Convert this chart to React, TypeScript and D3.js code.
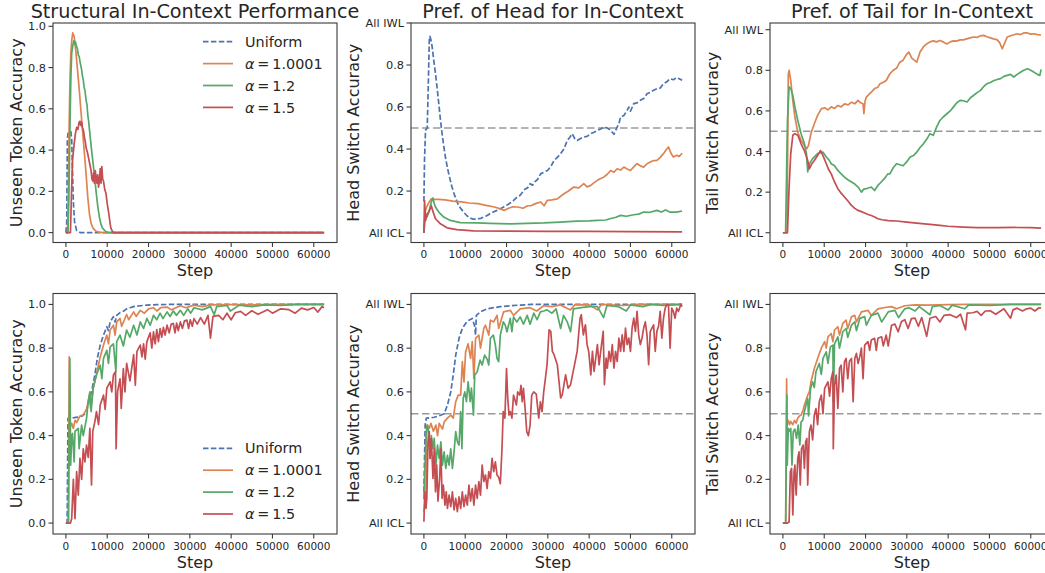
import React from 'react';
import * as d3 from 'd3';

type Pt = [number, number]; // [step in thousands, value]

// ---- data (steps in thousands) ----
const STEP_TICKS = [0, 10000, 20000, 30000, 40000, 50000, 60000];
const Y_TICKS = [0, 0.2, 0.4, 0.6, 0.8, 1.0];
const ACC_TICK_LABELS = ['0.0', '0.2', '0.4', '0.6', '0.8', '1.0'];
const SWITCH_TICK_LABELS = ['All ICL', '0.2', '0.4', '0.6', '0.8', 'All IWL'];
const LEGEND_LABELS = ['Uniform', '1.0001', '1.2', '1.5'];

// top-left: Structural In-Context Performance
const aUniform: Pt[] = [[0,0],[0.2,0.05],[0.35,0.45],[0.5,0.48],[0.8,0.49],[1.2,0.49],[1.4,0.45],[1.6,0.3],[1.8,0.15],[2.1,0.05],[2.6,0.01],[3.5,0],[62.5,0]];
const aA1: Pt[] = [[0,0],[0.4,0],[0.6,0.2],[0.8,0.54],[1.0,0.75],[1.2,0.87],[1.4,0.93],[1.65,0.968],[2.0,0.95],[2.4,0.88],[2.8,0.79],[3.2,0.7],[3.6,0.6],[4.0,0.5],[4.5,0.38],[4.9,0.28],[5.3,0.17],[5.7,0.09],[6.1,0.045],[6.6,0.02],[7.2,0.008],[8,0.002],[9,0],[62.5,0]];
const aA12: Pt[] = [[0,0],[0.5,0],[0.7,0.15],[1.0,0.54],[1.2,0.75],[1.4,0.87],[1.7,0.91],[1.9,0.93],[2.1,0.915],[2.3,0.925],[2.6,0.9],[2.8,0.89],[3.0,0.86],[3.2,0.855],[3.4,0.83],[3.6,0.81],[3.8,0.79],[4.0,0.76],[4.2,0.74],[4.4,0.705],[4.6,0.69],[4.9,0.64],[5.1,0.62],[5.3,0.57],[5.5,0.54],[5.7,0.5],[6.1,0.42],[6.5,0.35],[6.9,0.28],[7.3,0.2],[7.7,0.13],[8.1,0.075],[8.5,0.04],[8.9,0.02],[9.7,0.004],[10.5,0],[62.5,0]];
const aA15: Pt[] = [[0,0],[1.1,0],[1.3,0.15],[1.6,0.35],[2.0,0.43],[2.3,0.48],[2.6,0.51],[2.9,0.5],[3.2,0.535],[3.4,0.54],[3.6,0.52],[3.8,0.535],[4.0,0.51],[4.3,0.49],[4.5,0.46],[4.7,0.44],[4.9,0.41],[5.2,0.39],[5.5,0.36],[5.8,0.33],[6.1,0.3],[6.3,0.26],[6.5,0.25],[6.7,0.29],[6.9,0.24],[7.1,0.3],[7.3,0.27],[7.5,0.24],[7.7,0.28],[7.9,0.22],[8.1,0.25],[8.3,0.31],[8.5,0.24],[8.7,0.32],[8.9,0.26],[9.1,0.25],[9.4,0.21],[9.7,0.19],[10.0,0.14],[10.4,0.09],[10.7,0.045],[10.9,0.02],[11.3,0.005],[11.6,0],[62.5,0]];

// top-middle: Pref. of Head for In-Context
const bUniform: Pt[] = [[0,0.15],[0.15,0.35],[0.4,0.49],[0.8,0.5],[1.05,0.695],[1.3,0.917],[1.45,0.937],[1.7,0.92],[2.0,0.886],[2.4,0.82],[2.8,0.76],[3.2,0.69],[3.6,0.616],[4.0,0.54],[4.4,0.473],[4.8,0.415],[5.2,0.362],[5.6,0.32],[6.0,0.283],[6.4,0.25],[6.8,0.219],[7.2,0.193],[7.6,0.171],[8.0,0.15],[8.4,0.132],[9.0,0.115],[9.6,0.1],[10.2,0.087],[10.8,0.076],[11.4,0.07],[12.0,0.066],[12.6,0.066],[13.2,0.068],[13.8,0.07],[14.4,0.076],[15.2,0.082],[16.0,0.092],[16.8,0.1],[17.7,0.108],[18.5,0.116],[19.3,0.124],[20.1,0.133],[20.9,0.143],[21.7,0.155],[22.5,0.17],[23.3,0.18],[23.9,0.195],[24.5,0.21],[25.1,0.215],[25.7,0.235],[26.3,0.228],[26.9,0.245],[27.5,0.255],[28.3,0.283],[29.1,0.29],[29.9,0.298],[30.7,0.315],[31.5,0.346],[32.3,0.36],[33.1,0.378],[33.9,0.4],[34.7,0.441],[35.3,0.455],[35.9,0.473],[36.5,0.45],[37.1,0.441],[37.9,0.45],[38.7,0.457],[39.5,0.46],[40.4,0.473],[41.2,0.48],[42.0,0.489],[42.8,0.495],[43.6,0.505],[44.4,0.5],[45.2,0.489],[46.0,0.47],[46.8,0.505],[47.2,0.52],[47.6,0.552],[48.4,0.56],[49.2,0.584],[49.6,0.6],[50.0,0.58],[50.8,0.616],[51.6,0.62],[52.4,0.632],[53.2,0.64],[54.0,0.663],[54.8,0.67],[55.6,0.68],[56.4,0.687],[57.2,0.69],[58.0,0.711],[58.8,0.72],[59.6,0.735],[60.4,0.73],[61.2,0.74],[61.8,0.735],[62.5,0.727]];
const bA1: Pt[] = [[0,0],[0.15,0.05],[0.4,0.11],[0.8,0.13],[1.2,0.145],[1.8,0.163],[2.5,0.16],[3.5,0.16],[5.1,0.158],[7,0.152],[9.1,0.148],[11,0.143],[13.1,0.14],[15,0.132],[17.1,0.124],[18.5,0.115],[19.5,0.108],[20.5,0.118],[21.5,0.125],[22.7,0.124],[24,0.118],[25.1,0.13],[25.9,0.13],[27,0.14],[28.3,0.148],[29.1,0.13],[29.9,0.156],[31,0.158],[32.3,0.163],[33.1,0.175],[33.9,0.187],[35,0.2],[36.3,0.219],[37.5,0.215],[38.7,0.235],[39.5,0.22],[40.4,0.227],[41.2,0.24],[42,0.251],[42.8,0.26],[43.6,0.267],[44.4,0.28],[45.2,0.298],[46,0.29],[46.8,0.306],[47.6,0.3],[48.4,0.314],[49.2,0.305],[50,0.298],[50.8,0.315],[51.6,0.33],[52.4,0.32],[53.2,0.314],[54,0.33],[54.8,0.338],[55.6,0.345],[56.4,0.346],[57.2,0.36],[58,0.378],[58.6,0.395],[59.2,0.41],[59.8,0.38],[60.4,0.362],[61.2,0.37],[61.8,0.365],[62.5,0.38]];
const bA12: Pt[] = [[0,0],[0.2,0.05],[0.5,0.09],[0.7,0.076],[1.0,0.09],[1.3,0.108],[1.8,0.148],[2.2,0.167],[2.5,0.14],[2.8,0.124],[3.6,0.1],[4.8,0.076],[6.4,0.06],[8.8,0.05],[12.8,0.048],[16,0.046],[21,0.044],[25,0.046],[29,0.048],[33,0.052],[37,0.057],[40,0.058],[42,0.06],[44,0.062],[45,0.068],[46.5,0.075],[47.6,0.084],[49,0.08],[50.8,0.087],[52,0.09],[53.2,0.1],[54.5,0.098],[56.4,0.108],[57.5,0.1],[58.5,0.11],[59.5,0.1],[61.2,0.1],[62.5,0.105]];
const bA15: Pt[] = [[0,0],[0.15,0.155],[0.4,0.06],[0.8,0.09],[1.2,0.1],[1.8,0.13],[2.1,0.108],[2.8,0.068],[4,0.044],[5.6,0.025],[8,0.016],[12,0.01],[20,0.009],[30,0.008],[40,0.008],[50,0.007],[62.5,0.006]];

// top-right: Pref. of Tail for In-Context
const cA1: Pt[] = [[0,0],[1.0,0],[1.3,0.78],[1.5,0.8],[1.9,0.75],[2.4,0.65],[2.9,0.57],[3.6,0.495],[4.4,0.455],[5.2,0.43],[5.8,0.414],[6.2,0.43],[6.8,0.49],[7.6,0.537],[8.4,0.578],[9.3,0.61],[10.1,0.616],[10.9,0.605],[11.7,0.62],[12.5,0.612],[13.3,0.627],[14.1,0.62],[14.9,0.635],[15.8,0.63],[16.6,0.643],[17.4,0.635],[18.2,0.652],[18.8,0.64],[19.4,0.635],[19.6,0.586],[19.9,0.65],[20.2,0.668],[21,0.685],[21.4,0.693],[22.2,0.71],[23,0.717],[23.5,0.734],[24.2,0.74],[25,0.75],[25.9,0.783],[26.7,0.8],[27.5,0.81],[28.3,0.84],[29.1,0.85],[30,0.88],[30.5,0.89],[31.2,0.86],[32.4,0.84],[33.2,0.89],[34,0.915],[34.8,0.93],[35.6,0.94],[36.4,0.945],[37.2,0.94],[38,0.947],[38.8,0.94],[39.7,0.93],[40.5,0.94],[41.3,0.945],[42,0.944],[42.9,0.95],[43.7,0.95],[44.5,0.955],[45.3,0.96],[46.2,0.964],[47,0.962],[47.8,0.97],[48.6,0.972],[49.4,0.965],[50.2,0.96],[51,0.955],[51.9,0.95],[52.5,0.935],[53.1,0.906],[53.6,0.93],[54.3,0.964],[55.1,0.97],[55.9,0.975],[56.7,0.98],[57.5,0.976],[58.3,0.984],[59.2,0.984],[60,0.978],[60.8,0.98],[61.6,0.976],[62.5,0.974]];
const cA12: Pt[] = [[0,0],[0.65,0],[1.1,0.553],[1.5,0.718],[1.9,0.71],[2.4,0.676],[2.9,0.62],[3.6,0.553],[4.4,0.488],[5.2,0.438],[5.7,0.39],[6.0,0.3],[6.4,0.34],[7.2,0.365],[8.4,0.39],[9.2,0.395],[9.7,0.397],[10.5,0.373],[11.1,0.36],[11.7,0.34],[12.5,0.33],[13.3,0.307],[14.1,0.29],[14.9,0.274],[15.8,0.26],[16.6,0.25],[17.4,0.24],[18.2,0.225],[19,0.2],[19.6,0.215],[20.2,0.217],[21.4,0.225],[22.2,0.208],[23,0.233],[23.8,0.25],[24.7,0.27],[25.4,0.29],[25.9,0.29],[26.7,0.32],[27.5,0.34],[28.3,0.335],[29.1,0.33],[30,0.35],[30.8,0.373],[31.6,0.38],[32.4,0.397],[33.2,0.42],[34,0.438],[34.8,0.46],[35.6,0.488],[36.4,0.48],[37.2,0.52],[38,0.553],[38.8,0.57],[39.7,0.586],[40.5,0.6],[41.3,0.62],[42.1,0.64],[42.9,0.652],[43.7,0.65],[44.6,0.644],[45.4,0.665],[46.2,0.677],[47,0.69],[47.8,0.7],[48.6,0.72],[49.4,0.734],[50.2,0.74],[51.1,0.75],[51.9,0.755],[52.7,0.759],[53.5,0.77],[54.3,0.775],[55.1,0.78],[55.9,0.767],[56.7,0.78],[57.5,0.79],[58.3,0.8],[59.2,0.808],[60,0.8],[60.8,0.79],[61.6,0.78],[62.2,0.775],[62.5,0.805]];
const cA15: Pt[] = [[0,0],[1.1,0],[1.5,0.225],[1.9,0.39],[2.4,0.48],[2.9,0.488],[3.6,0.48],[4.4,0.438],[5.2,0.405],[6.0,0.356],[6.4,0.315],[7.0,0.34],[7.6,0.356],[8.4,0.38],[9.1,0.405],[9.7,0.38],[10.5,0.34],[11.1,0.31],[11.7,0.29],[12.5,0.25],[13.3,0.217],[14.1,0.195],[14.9,0.176],[15.8,0.155],[16.6,0.135],[17.4,0.12],[18.2,0.11],[19,0.104],[19.8,0.097],[20.6,0.09],[21.4,0.085],[22.2,0.078],[23,0.069],[24,0.064],[25.5,0.06],[27.5,0.058],[30,0.052],[33,0.046],[35.6,0.041],[38,0.036],[40,0.032],[43.7,0.028],[47,0.025],[51.9,0.025],[56,0.026],[60,0.025],[62.5,0.023]];

// bottom-left: Unseen Token Accuracy
const dUniform: Pt[] = [[0,0],[0.3,0],[0.5,0.479],[1,0.48],[2,0.482],[3,0.485],[4,0.49],[4.6,0.5],[5.4,0.54],[6.2,0.6],[7,0.677],[7.6,0.753],[8.3,0.814],[9.1,0.86],[9.9,0.898],[10.3,0.88],[10.7,0.92],[11.5,0.944],[11.9,0.92],[12.3,0.95],[13.1,0.963],[14,0.97],[14.7,0.98],[15.5,0.985],[16.4,0.99],[18,0.994],[19.6,0.997],[22,0.999],[25,1.0],[62.5,1.0]];
const dA1: Pt[] = [[0,0],[0.6,0],[0.8,0.76],[0.9,0.433],[1.4,0.456],[1.8,0.433],[2.2,0.47],[2.6,0.46],[3.4,0.49],[4.2,0.495],[5,0.52],[5.7,0.585],[6.0,0.524],[6.6,0.617],[7.5,0.69],[8.3,0.76],[9.1,0.814],[9.9,0.86],[10.3,0.82],[10.7,0.883],[11.5,0.905],[11.9,0.86],[12.3,0.92],[13.1,0.936],[13.5,0.9],[14.7,0.954],[15.2,0.93],[16.4,0.966],[17,0.945],[18,0.973],[19,0.96],[20,0.98],[21.2,0.985],[22,0.97],[23,0.986],[24.5,0.988],[25.5,0.975],[27.7,0.994],[29,0.985],[31,0.997],[33,0.99],[35,0.998],[40,0.999],[45,0.998],[50,1.0],[62.5,1.0]];
const dA12: Pt[] = [[0,0],[0.6,0],[0.95,0.753],[1.15,0.265],[1.4,0.4],[1.6,0.41],[2.0,0.28],[2.2,0.42],[3.0,0.433],[3.2,0.34],[3.8,0.448],[4.2,0.4],[5.0,0.48],[5.4,0.555],[5.8,0.6],[6.1,0.51],[6.6,0.617],[7.4,0.677],[8.3,0.722],[8.7,0.66],[9.1,0.753],[9.9,0.79],[10.3,0.73],[10.7,0.806],[11.5,0.82],[12.1,0.692],[12.3,0.83],[13.1,0.86],[13.9,0.81],[14.7,0.883],[15.5,0.85],[16.4,0.905],[17.2,0.86],[18,0.92],[18.8,0.89],[19.6,0.936],[20.4,0.905],[21.2,0.95],[22,0.93],[22.8,0.96],[23.5,0.935],[24.5,0.966],[25.2,0.945],[26,0.97],[26.8,0.95],[27.7,0.973],[28.5,0.95],[29.5,0.98],[30.2,0.96],[31,0.985],[33,0.975],[35,0.99],[35.9,0.953],[36.5,0.99],[39,0.995],[39.8,0.97],[42,0.997],[45,0.99],[48,0.998],[52,0.995],[56,1.0],[62.5,1.0]];
const dA15: Pt[] = [[0,0],[1.1,0],[1.4,0.02],[1.8,0.2],[2.2,0.02],[2.6,0.235],[3.0,0.128],[3.4,0.296],[3.8,0.2],[4.2,0.34],[4.6,0.28],[5.0,0.357],[5.4,0.3],[5.8,0.433],[6.2,0.174],[6.5,0.418],[7.0,0.463],[7.4,0.51],[7.9,0.45],[8.3,0.54],[9.1,0.585],[9.5,0.52],[9.9,0.617],[10.7,0.646],[11.1,0.6],[11.5,0.677],[12.0,0.692],[12.15,0.34],[12.5,0.6],[13.1,0.66],[13.4,0.524],[13.9,0.707],[14.3,0.6],[14.7,0.73],[15.5,0.65],[16.4,0.77],[16.8,0.63],[17.2,0.785],[18,0.814],[18.4,0.76],[18.8,0.82],[19.2,0.75],[19.6,0.83],[20.4,0.87],[20.8,0.8],[21.2,0.875],[21.6,0.82],[22,0.885],[22.4,0.83],[22.8,0.89],[23.2,0.85],[23.6,0.895],[24.0,0.86],[24.5,0.905],[25,0.87],[25.5,0.91],[26,0.913],[26.4,0.87],[26.8,0.915],[27.2,0.88],[27.7,0.92],[28.2,0.89],[28.7,0.925],[29.3,0.928],[29.7,0.89],[30.1,0.93],[30.6,0.9],[31,0.935],[31.8,0.91],[32.6,0.94],[33.5,0.91],[34.4,0.95],[35,0.846],[35.6,0.945],[37,0.95],[38,0.93],[39,0.96],[40,0.93],[41,0.962],[42.3,0.968],[43.5,0.95],[45,0.971],[46.5,0.955],[48.8,0.976],[50,0.96],[52,0.98],[54,0.976],[55.5,0.96],[57,0.983],[58.5,0.975],[60,0.986],[61,0.965],[62,0.99],[62.5,0.985]];

// bottom-middle: Head Switch Accuracy
const eUniform: Pt[] = [[0,0.143],[0.3,0.448],[0.6,0.48],[1.5,0.482],[2.5,0.484],[3.3,0.488],[4.2,0.494],[4.9,0.5],[5.7,0.54],[6.5,0.6],[7.1,0.677],[7.7,0.768],[8.5,0.845],[9.3,0.89],[10.1,0.913],[10.9,0.928],[11.7,0.936],[12.3,0.9],[12.5,0.86],[12.7,0.95],[13.7,0.966],[15.3,0.98],[16.9,0.985],[18.5,0.99],[20.9,0.994],[23.3,0.997],[26,1.0],[62.5,1.0]];
const eA1: Pt[] = [[0,0.05],[0.5,0.14],[0.7,0.448],[1.3,0.433],[1.7,0.456],[2.3,0.42],[2.9,0.448],[3.3,0.4],[3.7,0.456],[4.5,0.43],[4.9,0.463],[5.7,0.48],[6.5,0.494],[7.1,0.48],[7.7,0.555],[8.3,0.585],[8.9,0.585],[9.3,0.738],[9.7,0.646],[10.1,0.784],[10.7,0.82],[11.3,0.753],[11.7,0.83],[12.1,0.66],[12.5,0.845],[13.3,0.86],[13.7,0.8],[14.5,0.89],[14.9,0.905],[15.7,0.86],[16.1,0.928],[16.9,0.92],[17.7,0.95],[18.1,0.89],[19.3,0.966],[20.9,0.973],[21.7,0.95],[23.3,0.98],[25.7,0.985],[27.3,0.97],[29,0.994],[31,0.99],[33,0.998],[35.5,0.975],[36.5,0.998],[40,0.999],[42,0.975],[43,1.0],[48,0.995],[52,1.0],[62.5,1.0]];
const eA12: Pt[] = [[0,0.11],[0.55,0.418],[0.9,0.448],[1.3,0.387],[1.5,0.296],[1.8,0.4],[2.2,0.34],[2.5,0.387],[2.9,0.265],[3.3,0.357],[3.7,0.296],[4.1,0.372],[4.5,0.265],[4.9,0.326],[5.3,0.25],[5.7,0.31],[6.1,0.265],[6.5,0.34],[6.9,0.25],[7.3,0.326],[7.7,0.418],[8.1,0.372],[8.5,0.357],[8.9,0.51],[9.2,0.34],[9.5,0.57],[9.9,0.6],[10.3,0.555],[10.7,0.646],[11.2,0.555],[11.5,0.617],[12.0,0.494],[12.3,0.677],[12.9,0.692],[13.6,0.745],[14.1,0.723],[14.7,0.768],[15.3,0.75],[15.7,0.723],[16.1,0.845],[16.8,0.86],[17.3,0.814],[17.7,0.753],[18.1,0.738],[18.5,0.86],[19.2,0.92],[19.7,0.905],[20.1,0.875],[20.9,0.936],[21.3,0.875],[21.7,0.943],[22.5,0.92],[23.3,0.943],[24.1,0.91],[25,0.95],[25.7,0.91],[26.6,0.96],[27.4,0.93],[28.2,0.966],[29,0.97],[29.8,0.975],[31,0.96],[32,0.98],[33.1,0.89],[33.8,0.95],[34.7,0.92],[35.5,0.875],[36.2,0.98],[38,0.985],[40,0.99],[42,0.99],[43.5,0.94],[44.3,0.995],[47,0.99],[49,0.97],[50,0.998],[53,0.99],[55,1.0],[58,0.995],[62.5,1.0]];
const eA15: Pt[] = [[0,0.006],[0.2,0.143],[0.5,0.067],[0.7,0.113],[1.0,0.372],[1.3,0.418],[1.5,0.296],[1.8,0.387],[2.2,0.204],[2.5,0.34],[2.8,0.143],[3.1,0.265],[3.4,0.1],[3.8,0.204],[4.1,0.34],[4.4,0.113],[4.7,0.174],[5.1,0.082],[5.4,0.143],[5.7,0.067],[6.1,0.128],[6.5,0.075],[6.9,0.143],[7.3,0.06],[7.7,0.113],[8.1,0.052],[8.5,0.12],[8.9,0.067],[9.3,0.143],[9.7,0.075],[10.1,0.128],[10.5,0.082],[10.9,0.174],[11.3,0.1],[11.7,0.158],[12.1,0.082],[12.5,0.174],[12.9,0.113],[13.3,0.19],[13.7,0.128],[14.1,0.265],[14.5,0.19],[14.9,0.22],[15.3,0.158],[15.7,0.235],[16.1,0.204],[16.5,0.296],[16.9,0.235],[17.3,0.28],[17.7,0.22],[18.1,0.21],[18.5,0.18],[18.9,0.34],[19.2,0.51],[19.6,0.48],[20.0,0.707],[20.3,0.57],[20.6,0.494],[20.9,0.51],[21.3,0.48],[21.7,0.585],[22.4,0.54],[22.7,0.6],[23.2,0.585],[23.5,0.63],[23.8,0.555],[24.1,0.616],[24.5,0.524],[24.9,0.418],[25.3,0.4],[25.7,0.448],[26.1,0.585],[26.6,0.6],[27.2,0.59],[27.8,0.48],[28.2,0.555],[28.6,0.51],[29.0,0.6],[29.4,0.66],[29.8,0.722],[30.3,0.884],[30.7,0.877],[31.1,0.785],[31.5,0.77],[32.3,0.724],[32.7,0.648],[33.1,0.572],[33.5,0.587],[33.9,0.633],[34.3,0.678],[34.9,0.617],[35.5,0.633],[36.3,0.709],[37.1,0.785],[37.8,0.937],[38.1,0.953],[38.6,0.861],[39.1,0.907],[39.5,0.816],[39.9,0.785],[40.4,0.678],[40.8,0.785],[41.2,0.694],[41.6,0.755],[42,0.816],[42.4,0.724],[42.8,0.785],[43.4,0.877],[43.7,0.633],[44.1,0.755],[44.4,0.709],[44.8,0.785],[45.2,0.739],[45.6,0.816],[46,0.709],[46.4,0.785],[46.8,0.739],[47.2,0.846],[47.6,0.785],[48,0.861],[48.4,0.785],[48.8,0.892],[49.2,0.816],[49.6,0.846],[50,0.785],[50.4,0.892],[50.8,0.937],[51.2,0.877],[51.6,0.968],[52,0.861],[52.4,0.816],[52.8,0.846],[53.2,0.892],[53.6,0.92],[54,0.861],[54.4,0.724],[54.8,0.877],[55.2,0.892],[55.6,0.907],[56,0.785],[56.4,0.877],[56.8,0.9],[57.2,0.968],[57.6,0.846],[58,0.937],[58.4,0.983],[58.8,0.998],[59.2,1.0],[59.6,0.8],[60,0.983],[60.4,0.968],[60.8,0.937],[61.2,0.983],[61.6,0.968],[62.2,1.0],[62.5,0.99]];

// bottom-right: Tail Switch Accuracy
const fA1: Pt[] = [[0,0],[0.7,0],[0.9,0.66],[1.0,0.448],[1.3,0.47],[1.6,0.45],[1.9,0.465],[2.4,0.45],[2.8,0.47],[3.2,0.457],[3.6,0.48],[4.0,0.49],[4.4,0.494],[4.9,0.517],[5.2,0.54],[6.0,0.585],[6.4,0.6],[6.8,0.646],[7.6,0.707],[8.4,0.753],[9.3,0.8],[10.1,0.83],[10.5,0.8],[10.9,0.852],[11.7,0.867],[12.1,0.83],[12.5,0.883],[13.3,0.898],[13.7,0.86],[14.5,0.913],[15.3,0.928],[15.7,0.89],[16.6,0.944],[17.4,0.95],[17.8,0.92],[19,0.966],[20.6,0.973],[21.4,0.95],[23,0.98],[24.7,0.986],[26.3,0.99],[27.5,0.98],[29.5,0.994],[32,0.998],[35,0.997],[40,0.999],[45,1.0],[62.5,1.0]];
const fA12: Pt[] = [[0,0],[0.65,0],[0.95,0.585],[1.05,0.265],[1.3,0.433],[1.5,0.42],[1.9,0.433],[2.2,0.265],[2.5,0.418],[2.9,0.43],[3.3,0.387],[3.7,0.448],[4.1,0.357],[4.4,0.463],[4.8,0.47],[5.2,0.51],[5.6,0.54],[6.0,0.57],[6.2,0.49],[6.7,0.616],[7.2,0.646],[7.6,0.62],[8.0,0.692],[8.8,0.73],[9.3,0.68],[9.7,0.753],[10.5,0.783],[10.9,0.73],[11.5,0.806],[12.1,0.814],[12.2,0.555],[12.5,0.82],[13.3,0.852],[13.7,0.8],[14.5,0.875],[15.3,0.89],[15.7,0.85],[16.6,0.905],[17.4,0.92],[17.8,0.88],[18.6,0.936],[19.8,0.944],[20.2,0.905],[21.4,0.95],[23,0.96],[23.9,0.92],[25.5,0.966],[27.1,0.973],[28,0.94],[29.5,0.98],[30.5,0.985],[32,0.97],[33,0.99],[35.6,0.953],[36.2,0.99],[38,0.995],[40,0.975],[41,0.997],[44,0.98],[45,0.998],[50,0.995],[55,1.0],[62.5,1.0]];
const fA15: Pt[] = [[0,0],[1.1,0],[1.5,0.005],[1.8,0.235],[2.1,0.25],[2.4,0.037],[2.7,0.235],[2.9,0.265],[3.2,0.128],[3.6,0.296],[3.9,0.326],[4.2,0.174],[4.5,0.34],[4.9,0.357],[5.2,0.25],[5.5,0.372],[5.8,0.387],[6.0,0.174],[6.4,0.418],[6.8,0.448],[7.2,0.38],[7.6,0.494],[8.0,0.524],[8.4,0.45],[8.8,0.555],[9.3,0.585],[9.7,0.5],[10.1,0.616],[10.9,0.646],[11.3,0.58],[11.7,0.66],[12.1,0.692],[12.2,0.34],[12.5,0.63],[12.9,0.677],[13.3,0.524],[13.7,0.707],[14.1,0.722],[14.5,0.6],[14.9,0.738],[15.3,0.753],[15.7,0.66],[16.1,0.74],[16.6,0.753],[17.0,0.555],[17.4,0.753],[17.8,0.776],[18.2,0.73],[18.6,0.76],[19.0,0.8],[19.4,0.66],[19.8,0.814],[20.6,0.83],[21.0,0.79],[21.4,0.837],[22.2,0.845],[22.6,0.79],[23,0.845],[23.9,0.852],[24.3,0.81],[25,0.86],[25.5,0.81],[26.3,0.905],[27.1,0.91],[27.9,0.875],[28.7,0.922],[29.5,0.93],[30.3,0.89],[31.1,0.935],[32,0.937],[32.8,0.9],[33.6,0.94],[34.8,0.854],[35.6,0.937],[37,0.945],[38,0.92],[39,0.95],[40.5,0.953],[42,0.94],[43,0.955],[44.2,0.884],[44.6,0.96],[46,0.962],[47,0.968],[48,0.95],[49,0.97],[50.2,0.971],[51.5,0.955],[53.5,0.98],[55.1,0.937],[55.7,0.975],[56.7,0.983],[58,0.97],[59,0.98],[60,0.983],[61,0.97],[62,0.985],[62.5,0.983]];

// ---- styling ----
const COLORS = ['#4C72B0', '#DD8452', '#55A868', '#C44E52'];
const FONT = '"DejaVu Sans", sans-serif';
const INK = '#262626';
const COL_LEFT = [53, 411, 770];
const AX_W = 284;
const ROWS = [{ top: 23, bottom: 242.5 }, { top: 293.5, bottom: 534 }];
const X_DOMAIN: [number, number] = [-3125, 65625];

interface SeriesDef { data: Pt[]; color: number; }
interface PanelDef {
  col: number; row: number; title?: string; yLabel: string;
  yDomain: [number, number]; tickLabels: string[]; refLine: boolean;
  series: SeriesDef[]; legend?: 'top' | 'bottom';
}

const PANELS: PanelDef[] = [
  { col: 0, row: 0, title: 'Structural In-Context Performance', yLabel: 'Unseen Token Accuracy', yDomain: [-0.048, 1.016], tickLabels: ACC_TICK_LABELS, refLine: false, legend: 'top',
    series: [{ data: aUniform, color: 0 }, { data: aA1, color: 1 }, { data: aA12, color: 2 }, { data: aA15, color: 3 }] },
  { col: 1, row: 0, title: 'Pref. of Head for In-Context', yLabel: 'Head Switch Accuracy', yDomain: [-0.045, 1.0], tickLabels: SWITCH_TICK_LABELS, refLine: true,
    series: [{ data: bUniform, color: 0 }, { data: bA1, color: 1 }, { data: bA12, color: 2 }, { data: bA15, color: 3 }] },
  { col: 2, row: 0, title: 'Pref. of Tail for In-Context', yLabel: 'Tail Switch Accuracy', yDomain: [-0.048, 1.033], tickLabels: SWITCH_TICK_LABELS, refLine: true,
    series: [{ data: cA1, color: 1 }, { data: cA12, color: 2 }, { data: cA15, color: 3 }] },
  { col: 0, row: 1, yLabel: 'Unseen Token Accuracy', yDomain: [-0.05, 1.05], tickLabels: ACC_TICK_LABELS, refLine: false, legend: 'bottom',
    series: [{ data: dUniform, color: 0 }, { data: dA1, color: 1 }, { data: dA12, color: 2 }, { data: dA15, color: 3 }] },
  { col: 1, row: 1, yLabel: 'Head Switch Accuracy', yDomain: [-0.05, 1.05], tickLabels: SWITCH_TICK_LABELS, refLine: true,
    series: [{ data: eUniform, color: 0 }, { data: eA1, color: 1 }, { data: eA12, color: 2 }, { data: eA15, color: 3 }] },
  { col: 2, row: 1, yLabel: 'Tail Switch Accuracy', yDomain: [-0.05, 1.05], tickLabels: SWITCH_TICK_LABELS, refLine: true,
    series: [{ data: fA1, color: 1 }, { data: fA12, color: 2 }, { data: fA15, color: 3 }] },
];

const Legend: React.FC<{ x: number; y: number }> = ({ x, y }) => (
  <g transform={`translate(${x},${y})`} fontFamily={FONT} fontSize={14.4} fill={INK}>
    {LEGEND_LABELS.map((lab, i) => (
      <g key={lab} transform={`translate(0,${i * 21.9})`}>
        <line x1={0} x2={30} y1={0} y2={0} stroke={COLORS[i]} strokeWidth={1.7}
          strokeDasharray={i === 0 ? '5.5 2.4' : undefined} />
        <text x={42} y={0} dy="0.36em">
          {i === 0 ? lab : (
            <>
              <tspan fontStyle="italic">α</tspan>
              <tspan>{'\u2009=\u2009' + lab}</tspan>
            </>
          )}
        </text>
      </g>
    ))}
  </g>
);

const Panel: React.FC<{ p: PanelDef; idx: number }> = ({ p, idx }) => {
  const left = COL_LEFT[p.col];
  const { top, bottom } = ROWS[p.row];
  const x = d3.scaleLinear().domain(X_DOMAIN).range([left, left + AX_W]);
  const y = d3.scaleLinear().domain(p.yDomain).range([bottom, top]);
  const line = d3.line<Pt>().x(d => x(d[0] * 1000)).y(d => y(d[1]));
  const clipId = `clip-${idx}`;
  const labelOffset = p.tickLabels === ACC_TICK_LABELS ? 31 : 52;
  return (
    <g>
      <defs>
        <clipPath id={clipId}>
          <rect x={left} y={top} width={AX_W} height={bottom - top} />
        </clipPath>
      </defs>
      <g clipPath={`url(#${clipId})`}>
        {p.refLine && (
          <line x1={left} x2={left + AX_W} y1={y(0.5)} y2={y(0.5)} stroke="#9a9a9a"
            strokeWidth={1.5} strokeDasharray="7.5 3.5" />
        )}
        {p.series.map((s, i) => (
          <path key={i} d={line(s.data) || ''} fill="none" stroke={COLORS[s.color]}
            strokeWidth={1.7} strokeLinejoin="round"
            strokeDasharray={s.color === 0 ? '5.5 2.4' : undefined} />
        ))}
      </g>
      <rect x={left} y={top} width={AX_W} height={bottom - top} fill="none" stroke="#3a3a3a" strokeWidth={1.1} />
      {/* y ticks */}
      {Y_TICKS.map((t, i) => (
        <g key={`y${i}`}>
          <line x1={left - 4.5} x2={left} y1={y(t)} y2={y(t)} stroke="#3a3a3a" strokeWidth={1.1} />
          <text x={left - 7} y={y(t)} dy="0.36em" textAnchor="end" fontFamily={FONT} fontSize={11.3} fill={INK}>
            {p.tickLabels[i]}
          </text>
        </g>
      ))}
      {/* x ticks */}
      {STEP_TICKS.map(t => (
        <g key={`x${t}`}>
          <line x1={x(t)} x2={x(t)} y1={bottom} y2={bottom + 4.5} stroke="#3a3a3a" strokeWidth={1.1} />
          <text x={x(t)} y={bottom + 15.5} textAnchor="middle" fontFamily={FONT} fontSize={10.5} fill={INK}>
            {t}
          </text>
        </g>
      ))}
      <text x={left + AX_W / 2} y={bottom + 33.5} textAnchor="middle" fontFamily={FONT} fontSize={16} fill={INK}>Step</text>
      <text transform={`translate(${left - labelOffset},${(top + bottom) / 2}) rotate(-90)`} textAnchor="middle"
        fontFamily={FONT} fontSize={16} fill={INK}>{p.yLabel}</text>
      {p.title && (
        <text x={left + AX_W / 2} y={17.5} textAnchor="middle" fontFamily={FONT} fontSize={19.2} fill={INK}>{p.title}</text>
      )}
      {p.legend === 'top' && <Legend x={203} y={41.7} />}
      {p.legend === 'bottom' && <Legend x={203} y={448.3} />}
    </g>
  );
};

export default function App() {
  return (
    <svg width={1045} height={573} style={{ position: 'absolute', left: 0, top: 0, background: '#fff' }}>
      <rect width={1045} height={573} fill="#fff" />
      {PANELS.map((p, i) => <Panel key={i} p={p} idx={i} />)}
    </svg>
  );
}
